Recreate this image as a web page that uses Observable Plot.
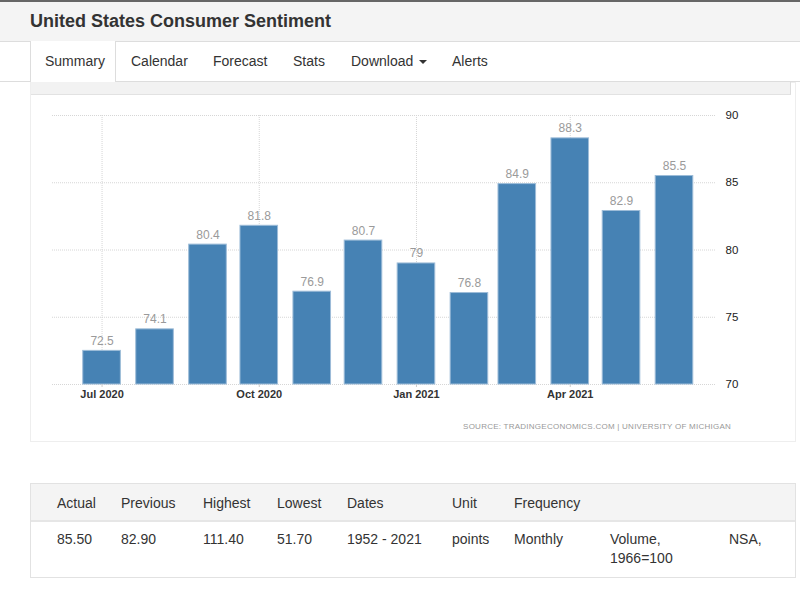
<!DOCTYPE html>
<html>
<head>
<meta charset="utf-8">
<script src="https://cdn.jsdelivr.net/npm/d3@7"></script>
<script src="https://cdn.jsdelivr.net/npm/@observablehq/plot@0.6"></script>
<style>
  html, body { margin: 0; padding: 0; background: #fff; }
  body { width: 800px; height: 604px; position: relative; overflow: hidden;
         font-family: "Liberation Sans", Arial, sans-serif; color: #333; }
  .abs { position: absolute; white-space: nowrap; }
  #topbar { left: 0; top: 0; width: 800px; height: 39px; background: #f4f4f4;
            border-top: 2px solid #666; border-bottom: 1px solid #ddd; }
  #title { left: 30px; top: 10px; font-size: 18px; font-weight: bold; color: #333; line-height: 22px; }
  #navline { left: 0; top: 81px; width: 800px; height: 1px; background: #ddd; }
  #activetab { left: 30px; top: 41px; width: 86px; height: 41px; background: #fff;
               border-left: 1px solid #ddd; border-right: 1px solid #ddd; box-sizing: border-box; }
  .tab { top: 53px; font-size: 14px; line-height: 16px; color: #333; }
  #panel { left: 30px; top: 82px; width: 766px; height: 360px; border: 1px solid #eee; box-sizing: border-box; }
  #strip { left: 31px; top: 82px; width: 759px; height: 12px; background: #f2f2f2;
           border-bottom: 1px solid #e2e2e2; border-right: 1px solid #ddd; }
  #chart { left: 30px; top: 95px; }
  #source { top: 422px; right: 69px; font-size: 8px; letter-spacing: 0.25px; color: #999; line-height: 10px; }
  #table { left: 30px; top: 483px; width: 766px; height: 95px; border: 1px solid #e2e2e2; box-sizing: border-box; }
  #thead { left: 31px; top: 484px; width: 764px; height: 36px; background: #f4f4f4; border-bottom: 2px solid #e6e6e6; }
  .th, .td { font-size: 14px; line-height: 18px; color: #333; }
  .th { top: 494px; }
  .td { top: 530px; }
</style>
</head>
<body>
<div class="abs" id="topbar"></div>
<div class="abs" id="title">United States Consumer Sentiment</div>
<div class="abs" id="navline"></div>
<div class="abs" id="activetab"></div>
<div id="tabs"></div>
<div class="abs" id="panel"></div>
<div class="abs" id="strip"></div>
<div class="abs" id="chart"></div>
<div class="abs" id="source">SOURCE: TRADINGECONOMICS.COM | UNIVERSITY OF MICHIGAN</div>
<div class="abs" id="table"></div>
<div class="abs" id="thead"></div>
<div id="cells"></div>
<script>
// ---- chart data ----
const months = ["2020-07-01","2020-08-01","2020-09-01","2020-10-01","2020-11-01","2020-12-01",
                "2021-01-01","2021-02-01","2021-03-01","2021-04-01","2021-05-01","2021-06-01"];
const values = [72.5, 74.1, 80.4, 81.8, 76.9, 80.7, 79, 76.8, 84.9, 88.3, 82.9, 85.5];
const valueLabels = ["72.5","74.1","80.4","81.8","76.9","80.7","79","76.8","84.9","88.3","82.9","85.5"];
const xTicks = ["2020-07-01","2020-10-01","2021-01-01","2021-04-01"];
const xTickLabels = ["Jul 2020","Oct 2020","Jan 2021","Apr 2021"];
const yTicks = [70, 75, 80, 85, 90];
const yDomain = [70, 90];
const xDomain = ["2020-06-02", "2021-06-25"];

// ---- page texts ----
const tabNames = ["Summary","Calendar","Forecast","Stats","Download","Alerts"];
const tabX = [45, 131, 213, 293, 351, 452];
const headers = ["Actual","Previous","Highest","Lowest","Dates","Unit","Frequency","",""];
const rowValues = ["85.50","82.90","111.40","51.70","1952 - 2021","points","Monthly","Volume,<br>1966=100","NSA,"];
const colX = [57, 121, 203, 277, 347, 452, 514, 610, 729];

const tabs = document.getElementById("tabs");
tabNames.forEach((t, i) => {
  const d = document.createElement("div");
  d.className = "abs tab";
  d.style.left = tabX[i] + "px";
  d.innerHTML = t + (t === "Download" ? ' <svg width="8" height="5" style="vertical-align:middle;margin-left:2px"><path d="M0,0L8,0L4,4Z" fill="#333"/></svg>' : "");
  tabs.appendChild(d);
});
const cells = document.getElementById("cells");
colX.forEach((x, i) => {
  const h = document.createElement("div");
  h.className = "abs th"; h.style.left = x + "px"; h.textContent = headers[i];
  cells.appendChild(h);
  const v = document.createElement("div");
  v.className = "abs td"; v.style.left = x + "px"; v.innerHTML = rowValues[i];
  v.style.lineHeight = "19px";
  cells.appendChild(v);
});

const parse = d3.utcParse("%Y-%m-%d");
const data = months.map((m, i) => ({date: parse(m), value: values[i], label: valueLabels[i]}));
const halfWidthDays = 11;
const baseline = yDomain[0];

const chart = Plot.plot({
  width: 765,
  height: 345,
  marginLeft: 22,
  marginRight: 80,
  marginTop: 20,
  marginBottom: 56,
  style: {fontFamily: "'Liberation Sans', Arial, sans-serif", background: "transparent", overflow: "visible"},
  x: {type: "utc", domain: xDomain.map(parse)},
  y: {domain: yDomain},
  marks: [
    Plot.gridY(yTicks, {stroke: "#d6d6d6", strokeOpacity: 1, strokeDasharray: "1,1"}),
    Plot.gridX(xTicks.map(parse), {stroke: "#d6d6d6", strokeOpacity: 1, strokeDasharray: "1,1"}),
    Plot.rectY(data, {
      x1: d => d3.utcDay.offset(d.date, -halfWidthDays),
      x2: d => d3.utcDay.offset(d.date, halfWidthDays),
      y1: () => baseline,
      y2: "value",
      fill: "#4682b4",
      stroke: "#9dbcd8",
      strokeWidth: 1
    }),
    Plot.text(data, {
      x: "date", y: "value", text: "label",
      lineAnchor: "bottom", dy: -6,
      fill: "#9a9a9a", fontSize: 12
    }),
    Plot.axisY(yTicks, {
      anchor: "right", tickSize: 0, tickPadding: 10, fontSize: 11.5,
      fill: "#222", label: null
    }),
    Plot.axisX(xTicks.map(parse), {
      anchor: "bottom", tickSize: 3, tickPadding: 3, stroke: "#ccc",
      fontSize: 11, fontWeight: "bold", fill: "#333", label: null,
      tickFormat: (d, i) => xTickLabels[i]
    })
  ]
});
document.getElementById("chart").appendChild(chart);
</script>
</body>
</html>
